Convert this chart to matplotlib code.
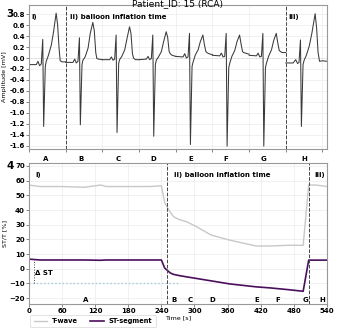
import matplotlib as mpl
mpl.use('agg')
import matplotlib.pyplot as plt

# --- ECG beats (panel 3), one window per beat ---
beat_letters = ['A', 'B', 'C', 'D', 'E', 'F', 'G', 'H']
beat_t = [0.00, 0.20, 0.245, 0.29, 0.335, 0.375, 0.40, 0.445, 0.47, 0.53,
          0.61, 0.67, 0.74, 0.78, 0.82, 0.85, 0.90, 1.00]
beat_t_last = [0.00, 0.20, 0.27, 0.32, 0.36, 0.40, 0.425, 0.47, 0.50, 0.56,
               0.64, 0.71, 0.80, 0.84, 0.88, 0.92, 1.00, 1.12]
ecg_a = [-0.12, -0.12, -0.06, -0.14, -0.11, 0.34, -1.25, -0.15, -0.06, 0.05,
         0.24, 0.48, 0.82, 0.61, 0.18, -0.05, -0.07, -0.07]
ecg_b = [-0.08, -0.08, -0.02, -0.09, -0.06, 0.37, -1.22, -0.12, -0.04, 0.02,
         0.18, 0.45, 0.65, 0.50, 0.10, -0.01, -0.02, -0.03]
ecg_c = [-0.03, -0.03, 0.02, -0.04, -0.02, 0.42, -1.36, -0.10, -0.03, 0.03,
         0.15, 0.35, 0.57, 0.45, 0.08, 0.00, -0.03, -0.03]
ecg_d = [-0.03, -0.02, 0.03, -0.03, -0.01, 0.42, -1.43, -0.12, -0.04, 0.02,
         0.12, 0.30, 0.48, 0.38, 0.12, 0.08, 0.05, 0.03]
ecg_e = [0.03, 0.02, 0.08, 0.00, 0.02, 0.45, -1.58, -0.15, -0.08, 0.05,
         0.15, 0.30, 0.42, 0.25, 0.12, 0.10, 0.08, 0.06]
ecg_f = [0.05, 0.04, 0.09, 0.02, 0.03, 0.45, -1.61, -0.18, -0.10, 0.03,
         0.14, 0.30, 0.42, 0.26, 0.12, 0.10, 0.09, 0.07]
ecg_g = [0.05, 0.04, 0.09, 0.02, 0.03, 0.45, -1.61, -0.18, -0.10, 0.03,
         0.15, 0.32, 0.45, 0.28, 0.14, 0.12, 0.10, 0.10]
ecg_h = [-0.09, -0.09, -0.03, -0.10, -0.08, 0.33, -1.25, -0.12, -0.04, 0.05,
         0.22, 0.45, 0.81, 0.55, 0.10, -0.06, -0.05, -0.06]
ecg_beats = [ecg_a, ecg_b, ecg_c, ecg_d, ecg_e, ecg_f, ecg_g, ecg_h]
letter_pos_top = [0.45, 1.42, 2.42, 3.40, 4.40, 5.37, 6.40, 7.49]

# --- ST / T trend (panel 4) ---
time_s = [0, 20, 60, 100, 130, 140, 180, 220, 240, 246, 256, 262, 272, 286,
          304, 330, 364, 412, 437, 470, 497, 507, 521, 540]
t_wave = [57, 56, 56, 55.5, 57, 56, 56, 56, 56.5, 45, 38.5, 35.5, 33.5, 32,
          28.6, 23, 19.5, 15.5, 15.5, 16, 16, 57, 57, 56]
st_seg = [6.6, 6.0, 6.0, 6.0, 5.8, 6.0, 6.0, 6.0, 6.0, 0.5, -2.8, -3.8, -4.6,
          -5.5, -6.6, -8.2, -10.3, -12.3, -13.0, -14.2, -15.3, 5.9, 5.9, 5.9]
letter_time = [103, 263, 293, 333, 412, 451, 502, 532]
inflation_start, inflation_end = 250, 508

fs = 5
fig = plt.figure(figsize=(3.37, 3.28), dpi=100)
ax = fig.add_axes([0.086, 0.546, 0.884, 0.439])
ax2 = fig.add_axes([0.086, 0.073, 0.884, 0.430])

# ECG panel
for k, vals in enumerate(ecg_beats):
    ts = beat_t_last if k == len(ecg_beats) - 1 else beat_t
    xs = [k + t for t in ts]
    ax.plot(xs, vals, color='#3a3a3a', lw=0.75)
ax.axhline(0, color='#bbbbbb', ls='--', lw=0.6, zorder=0)
ax.axvline(1, color='#444444', ls='--', lw=0.7)
ax.axvline(7, color='#444444', ls='--', lw=0.7)
ax.set_xlim(0, 8.12)
ax.set_ylim(-1.66, 0.97)
ax.set_xticks(range(0, 9))
ax.set_xticklabels([])
ax.set_yticks([-1.6 + 0.2 * i for i in range(13)])
ax.set_yticklabels(['%.1f' % (-1.6 + 0.2 * i) for i in range(13)])
ax.tick_params(axis='x', length=0)
ax.set_ylabel('Amplitude [mV]', fontsize=4.6, labelpad=1.5)
for k, lt in enumerate(beat_letters):
    ax.text(letter_pos_top[k], -0.07, lt, transform=ax.get_xaxis_transform(),
            ha='center', va='center', fontsize=fs, fontweight='bold')
ax.text(0.008, 0.915, 'i)', transform=ax.transAxes, fontsize=fs, fontweight='bold', va='center')
ax.text(1.12, 0.915, 'ii) balloon inflation time', transform=ax.get_xaxis_transform(),
        fontsize=fs, fontweight='bold', va='center')
ax.text(7.07, 0.915, 'iii)', transform=ax.get_xaxis_transform(),
        fontsize=fs, fontweight='bold', va='center')

# ST / T panel
ax2.plot(time_s, t_wave, color='#c8c8c8', lw=1.0, label='T-wave')
ax2.plot(time_s, st_seg, color='#4a0e5c', lw=1.2, label='ST-segment')
ax2.axvline(inflation_start, color='#444444', ls='--', lw=0.7)
ax2.axvline(inflation_end, color='#444444', ls='--', lw=0.7)
ax2.axhline(-10, xmax=0.5, color='#9ecae1', ls=':', lw=1.0)
ax2.vlines(10, -10, st_seg[0], color='#444444', ls=':', lw=0.7)
ax2.text(11, -3, 'Δ ST', fontsize=fs, fontweight='bold', va='center')
ax2.set_xlim(0, 540)
ax2.set_ylim(-24, 72)
ax2.set_xticks(range(0, 541, 60))
ax2.set_yticks(range(-20, 71, 10))
ax2.set_xlabel('Time [s]', fontsize=4.6, labelpad=1)
ax2.set_ylabel('ST/T [%]', fontsize=4.6, labelpad=1.5)
for k, lt in enumerate(beat_letters):
    ax2.text(letter_time[k], -21.5, lt, ha='center', va='center',
             fontsize=fs, fontweight='bold')
ax2.text(11, 63.8, 'i)', fontsize=fs, fontweight='bold', va='center')
ax2.text(263, 63.8, 'ii) balloon inflation time', fontsize=fs, fontweight='bold', va='center')
ax2.text(518, 63.8, 'iii)', fontsize=fs, fontweight='bold', va='center')
leg = ax2.legend(loc='upper left', bbox_to_anchor=(0.0, -0.065), ncol=2,
                 prop={'size': 4.8, 'weight': 'bold'}, frameon=True,
                 handlelength=2.0, handletextpad=0.8, columnspacing=1.8,
                 borderpad=0.5, borderaxespad=0.2)
leg.get_frame().set_linewidth(0.5)
leg.get_frame().set_edgecolor('#cccccc')

for a in [ax, ax2]:
    a.grid(color='#ebebeb', lw=0.5)
    a.set_axisbelow(True)
    for sp in a.spines.values():
        sp.set_color('#999999')
        sp.set_linewidth(0.8)
    a.tick_params(labelsize=fs, width=0.5, length=2, pad=1, color='#555555')
    for lab in a.get_xticklabels() + a.get_yticklabels():
        lab.set_fontweight('bold')

fig.text(0.528, 0.988, 'Patient_ID: 15 (RCA)', ha='center', va='center', fontsize=6.5)
fig.text(0.03, 0.958, '3', ha='center', va='center', fontsize=7.5, fontweight='bold')
fig.text(0.03, 0.494, '4', ha='center', va='center', fontsize=7.5, fontweight='bold')

fig.savefig('out.png', dpi=100)
